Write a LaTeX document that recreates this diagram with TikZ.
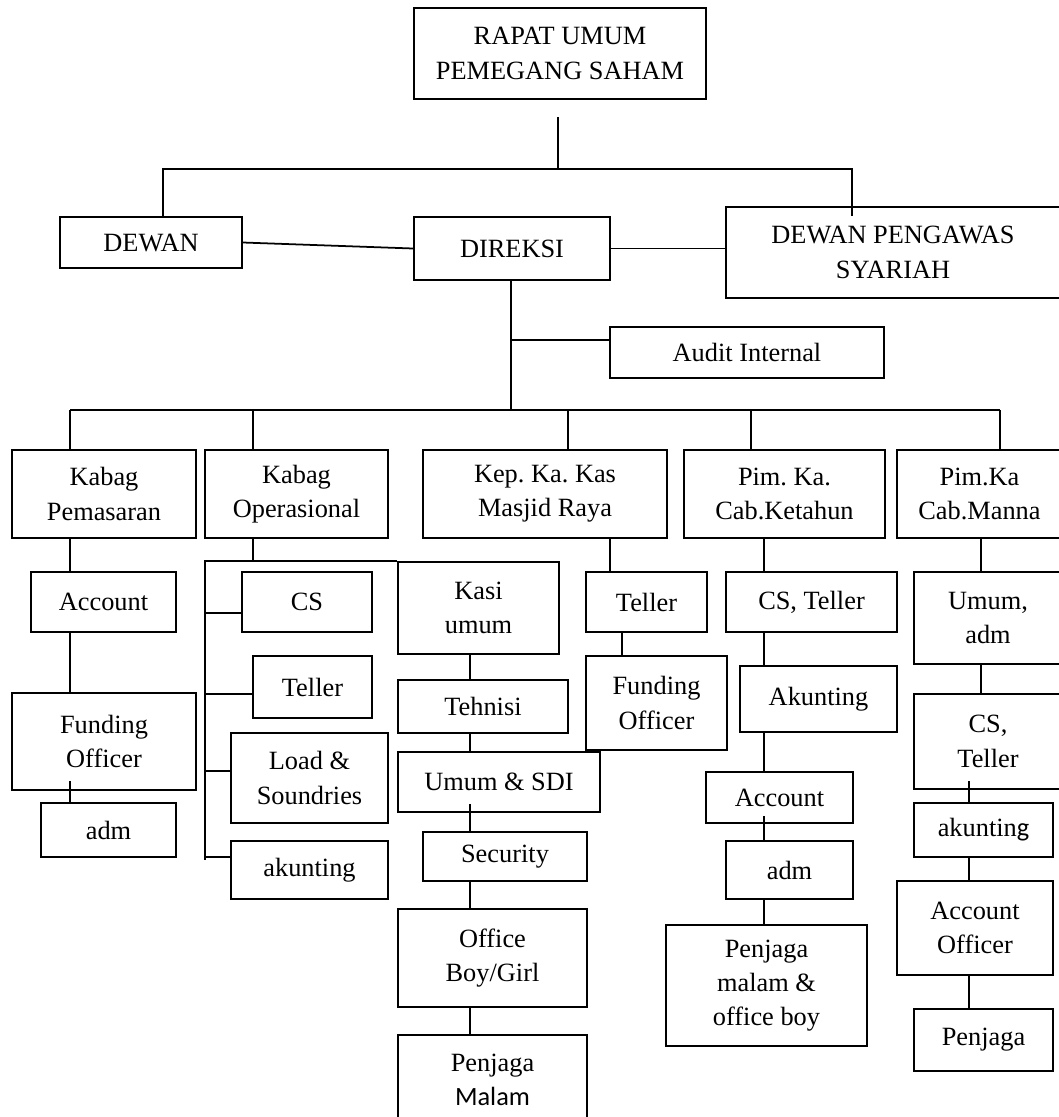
\documentclass[tikz,border=0pt]{standalone}
\usepackage{fontspec}
\setmainfont{Liberation Serif}
\newfontfamily\calibri{Carlito}
\usetikzlibrary{positioning}
\usetikzlibrary{calc}
\frenchspacing

\begin{document}
\begin{tikzpicture}[x=0.02cm,y=-0.02cm]
	\tikzstyle{every node}=[draw,line width=1pt,align=center,inner sep=0pt,font=\fontsize{15}{19.5}\selectfont]
	\tikzstyle{link}=[-,line width=1pt]
	\useasboundingbox (0,0) rectangle (1059,1117);

	% top level
	\node (rups) [minimum width=5.84cm,minimum height=1.82cm] at (560,53.5) {RAPAT UMUM\\PEMEGANG SAHAM};
	\node (dewan) [minimum width=3.64cm,minimum height=1.02cm] at (151,242.5) {DEWAN};
	\node (direksi) [minimum width=3.92cm,minimum height=1.26cm] at (512,248.5) {DIREKSI};
	\node (dps) [minimum width=6.68cm,minimum height=1.82cm] at (893,252.5) {DEWAN PENGAWAS\\SYARIAH};
	\node (audit) [minimum width=5.48cm,minimum height=1.02cm] at (747,352.5) {Audit Internal};

	% second level
	\node (pemasaran) [minimum width=3.68cm,minimum height=1.76cm] at (104,494) {Kabag\\Pemasaran};
	\node (operasional) [minimum width=3.66cm,minimum height=1.76cm] at (296.5,494) {Kabag\\Operasional};
	\node (kaskep) [minimum width=4.88cm,minimum height=1.76cm] at (545,494) {Kep. Ka. Kas\\Masjid Raya};
	\node (ketahun) [minimum width=4.02cm,minimum height=1.76cm] at (784.5,494) {Pim. Ka.\\Cab.Ketahun};
	\node (manna) [minimum width=3.3cm,minimum height=1.76cm] at (979.5,494) {Pim.Ka\\Cab.Manna};

	% pemasaran
	\node (account1) [minimum width=2.9cm,minimum height=1.2cm] at (103.5,602) {Account};
	\node (funding1) [minimum width=3.68cm,minimum height=1.94cm] at (104,741.5) {Funding\\Officer};
	\node (adm1) [minimum width=2.7cm,minimum height=1.08cm] at (108.5,830) {adm};

	% operasional
	\node (cs1) [minimum width=2.6cm,minimum height=1.2cm] at (307,602) {CS};
	\node (teller1) [minimum width=2.38cm,minimum height=1.24cm] at (312.5,687) {Teller};
	\node (load) [minimum width=3.14cm,minimum height=1.8cm] at (309.5,778) {Load \&\\Soundries};
	\node (akunting1) [minimum width=3.14cm,minimum height=1.16cm] at (309.5,870) {akunting};

	% kantor kas
	\node (kasi) [minimum width=3.22cm,minimum height=1.84cm] at (478.5,608) {Kasi\\umum};
	\node (tehnisi) [minimum width=3.4cm,minimum height=1.06cm] at (483,706.5) {Tehnisi};
	\node (umumsdi) [minimum width=4.04cm,minimum height=1.2cm] at (499,782) {Umum \& SDI};
	\node (security) [minimum width=3.28cm,minimum height=0.98cm] at (505,856.5) {Security};
	\node (office) [minimum width=3.78cm,minimum height=1.96cm] at (492.5,958) {Office\\Boy/Girl};
	\node (malam) [minimum width=3.78cm,minimum height=1.8cm] at (492.5,1080) {Penjaga\\{\calibri Malam}};
	\node (teller2) [minimum width=2.42cm,minimum height=1.2cm] at (646.5,602) {Teller};
	\node (funding2) [minimum width=2.82cm,minimum height=1.88cm] at (656.5,703) {Funding\\Officer};

	% ketahun
	\node (cst1) [minimum width=3.42cm,minimum height=1.2cm] at (811.5,602) {CS, Teller};
	\node (akunting2) [minimum width=3.14cm,minimum height=1.32cm] at (818.5,699) {Akunting};
	\node (account2) [minimum width=2.94cm,minimum height=1.02cm] at (779.5,797.5) {Account};
	\node (adm2) [minimum width=2.54cm,minimum height=1.16cm] at (789.5,870) {adm};
	\node (penjaga2) [minimum width=4.02cm,minimum height=2.42cm] at (766.5,985.5) {Penjaga\\malam \&\\office boy};

	% manna
	\node (umumadm) [minimum width=2.96cm,minimum height=1.84cm] at (988,618) {Umum,\\adm};
	\node (cst2) [minimum width=2.96cm,minimum height=1.9cm] at (988,741.5) {CS,\\Teller};
	\node (akunting3) [minimum width=2.78cm,minimum height=1.08cm] at (983.5,830) {akuntin{\calibri g}};
	\node (ao) [minimum width=3.12cm,minimum height=1.88cm] at (975,928) {Account\\Officer};
	\node (penjaga3) [minimum width=2.78cm,minimum height=1.24cm] at (983.5,1040) {Penjaga};

	% lines at the top
	\coordinate (rupsfoot) at (558,117);
	\coordinate (top) at (558,169);
	\coordinate (topl) at (163,169);
	\coordinate (topr) at (852,169);
	\draw[link] (rupsfoot) -- (top);
	\draw[link] (topl |- dewan.north) -- (topl) -- (topr) -- ($(topr |- dps.north)+(0,10)$);
	\draw[link] (dewan.east) -- (direksi.west);
	\draw[link] (direksi.east) -- (direksi.east -| dps.west);

	\coordinate (mid) at (511,410);
	\coordinate (auditjoin) at (511,340);
	\draw[link] (direksi.south -| mid) -- (mid);
	\draw[link] (auditjoin) -- (auditjoin -| audit.west);

	% row bus
	\coordinate (r1) at (70,410);
	\coordinate (r2) at (253,410);
	\coordinate (r3) at (568,410);
	\coordinate (r4) at (751,410);
	\coordinate (r5) at (1000,410);
	\draw[link] (r1) -- (r5);
	\foreach \r/\n in {r1/pemasaran,r2/operasional,r3/kaskep,r4/ketahun,r5/manna}
		\draw[link] (\r) -- (\r |- \n.north);

	% columns (\o: start a little inside the upper box)
	\coordinate (c1) at (70,0);
	\foreach \a/\b/\o in {pemasaran/account1/0,account1/funding1/0,funding1/adm1/10}
		\draw[link] ($(c1 |- \a.south)+(0,-\o)$) -- (c1 |- \b.north);

	\coordinate (ob) at (205,0);
	\coordinate (obend) at (205,860);
	\draw[link] (r2 |- operasional.south) -- (r2 |- kasi.north);
	\draw[link] (kasi.north west) -- (kasi.north west -| ob) -- (obend);
	\foreach \n/\dy/\len in {cs1/11/37,teller1/7/48,load/-7/26,akunting1/-13/26}
		\draw[link] ($(\n.west)+(0,\dy)$) -- ++(-\len,0);

	\coordinate (c3) at (470,0);
	\foreach \a/\b/\o in {kasi/tehnisi/0,tehnisi/umumsdi/0,umumsdi/security/9,security/office/0,office/malam/0}
		\draw[link] ($(c3 |- \a.south)+(0,-\o)$) -- (c3 |- \b.north);
	\coordinate (c3b) at (610,0);
	\coordinate (c3c) at (622,0);
	\draw[link] (c3b |- kaskep.south) -- (c3b |- teller2.north);
	\draw[link] (c3c |- teller2.south) -- (c3c |- funding2.north);

	\coordinate (c4) at (764,0);
	\foreach \a/\b/\o in {ketahun/cst1/0,cst1/akunting2/0,akunting2/account2/0,account2/adm2/8,adm2/penjaga2/0}
		\draw[link] ($(c4 |- \a.south)+(0,-\o)$) -- (c4 |- \b.north);

	\coordinate (c5) at (981,0);
	\coordinate (c5b) at (969,0);
	\foreach \a/\b in {manna/umumadm,umumadm/cst2}
		\draw[link] (c5 |- \a.south) -- (c5 |- \b.north);
	\foreach \a/\b/\o in {cst2/akunting3/9,akunting3/ao/0,ao/penjaga3/0}
		\draw[link] ($(c5b |- \a.south)+(0,-\o)$) -- (c5b |- \b.north);

\end{tikzpicture}
\end{document}
